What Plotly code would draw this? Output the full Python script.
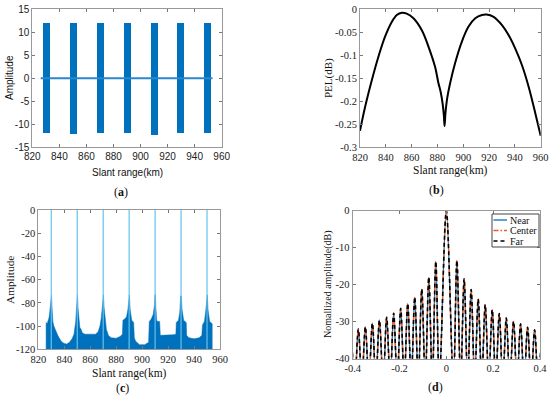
import plotly.graph_objects as go

W, H = 550, 397

# ---------------- data ----------------
# (a) transmitted pulse bursts
a_burst_start = [827.6, 847.5, 867.6, 887.5, 907.4, 927.0, 947.0]
a_burst_end = [833.0, 853.2, 873.2, 893.2, 912.6, 932.2, 952.0]
a_burst_high = [12.0, 12.0, 12.0, 12.0, 12.0, 12.0, 12.0]
a_burst_low = [-12.0, -12.2, -12.0, -12.0, -12.4, -12.0, -12.0]
a_zero_x = [826.2, 953.2]
a_zero_y = [0.0, 0.0]

# (b) PEL curve
b_x = [820, 823.9, 829.1, 834.2, 839.4, 844.6, 848.5, 852.4, 856.2, 861.4, 867.9, 873.1,
       878.2, 880.7, 882.5, 884.0, 885.0, 885.5, 886.2, 887.3, 889.9, 893.8, 899.0, 904.1,
       909.3, 914.5, 918.0, 923.5, 930.0, 935.2, 940.3, 945.5, 950.7, 955.9, 960]
b_y = [-0.264, -0.213, -0.155, -0.104, -0.060, -0.028, -0.013, -0.008, -0.010, -0.020,
       -0.046, -0.082, -0.126, -0.160, -0.180, -0.205, -0.232, -0.254, -0.226, -0.198,
       -0.160, -0.116, -0.070, -0.038, -0.020, -0.013, -0.012, -0.017, -0.035, -0.057,
       -0.086, -0.122, -0.169, -0.227, -0.275]

# (c) compressed echo: spike positions and floor envelope
c_spike_x = [830, 850, 870, 890, 910, 930, 950]
c_spike_top = [0, 0, 0, 0, 0, 0, 0]
c_env_x = [826.0, 826.8, 827.5, 828.2, 828.8, 829.4, 829.8, 830.2, 830.6, 831.2, 832, 833, 834,
           835, 836.5, 838, 840, 842, 844, 846, 847.5, 848.3, 848.8, 849.4, 849.8, 850.2,
           850.6, 851.2, 852, 853, 854, 856, 860, 864, 866, 867.5, 868.5, 869.3, 869.8,
           870.2, 870.7, 871.5, 872.5, 874, 876, 880, 883, 884.8, 885.2, 886.5, 888, 889,
           889.8, 890.2, 890.8, 892, 893.5, 894, 895, 898, 902, 905, 905.5, 907, 908.5,
           909.5, 909.9, 910.2, 910.6, 911.2, 912, 913.5, 914, 916, 920, 924, 926, 926.3,
           928, 929, 929.7, 930.2, 930.8, 932, 934, 934.3, 936, 940, 944, 946, 946.5, 948,
           949.2, 949.8, 950.2, 950.8, 952, 953, 954]
c_env_y = [-97, -98, -96, -93, -88, -82, -73, -73, -84, -96, -100, -103, -104.5,
           -108, -111, -113.5, -115, -115.5, -114, -111, -107, -100, -96, -85, -73, -73,
           -84, -95, -101, -103, -106, -107, -107, -107, -105, -100, -93, -84, -73,
           -73, -84, -96, -103, -108, -110, -110.5, -109, -107, -95, -94, -92, -86,
           -73, -73, -86, -95, -97, -110, -113, -116, -116, -114, -96, -94, -90,
           -82, -73, -73, -84, -95, -96, -96, -108, -108, -108, -107.5, -107, -97,
           -95, -88, -74, -74, -86, -95, -97, -108, -110, -111, -110, -108, -99, -96,
           -85, -73, -73, -86, -96, -97, -98]
c_floor = -120

# (d) impulse response: lobe peaks and nulls (dB)
d_x = [-0.406, -0.391, -0.376, -0.361, -0.346, -0.331, -0.316, -0.301, -0.286, -0.270,
       -0.255, -0.240, -0.225, -0.210, -0.195, -0.180, -0.165, -0.150, -0.135, -0.120,
       -0.105, -0.090, -0.075, -0.060, -0.045, -0.030, 0.0, 0.030, 0.045, 0.061, 0.076,
       0.091, 0.106, 0.121, 0.136, 0.151, 0.166, 0.181, 0.196, 0.211, 0.226, 0.241,
       0.256, 0.271, 0.287, 0.302, 0.317, 0.332, 0.347, 0.362, 0.377, 0.392, 0.407]
d_y = [-32.6, -46, -32.0, -46, -31.4, -46, -30.4, -46, -29.6, -46,
       -28.8, -46, -27.7, -46, -26.4, -46, -25.1, -46, -23.4, -46,
       -21.2, -46, -18.0, -46, -13.7, -46, 0.0, -46, -13.5, -46, -18.4,
       -46, -21.3, -46, -23.9, -46, -25.4, -46, -26.8, -46, -27.8, -46,
       -29.0, -46, -29.9, -46, -30.6, -46, -31.5, -46, -32.2, -46, -32.8]
d_names = ["Near", "Center", "Far"]

# tick labels
range_ticks = [820, 840, 860, 880, 900, 920, 940, 960]
range_ticktext = ["820", "840", "860", "880", "900", "920", "940", "960"]
a_yticks = [-15, -10, -5, 0, 5, 10, 15]
a_yticktext = ["-15", "-10", "-5", "0", "5", "10", "15"]
b_yticks = [-0.3, -0.25, -0.2, -0.15, -0.1, -0.05, 0]
b_yticktext = ["-0.3", "-0.25", "-0.2", "-0.15", "-0.1", "-0.05", "0"]
c_yticks = [-120, -100, -80, -60, -40, -20, 0]
c_yticktext = ["-120", "-100", "-80", "-60", "-40", "-20", "0"]
d_xticks = [-0.4, -0.2, 0, 0.2, 0.4]
d_xticktext = ["-0.4", "-0.2", "0", "0.2", "0.4"]
d_yticks = [-40, -30, -20, -10, 0]
d_yticktext = ["-40", "-30", "-20", "-10", "0"]

# ---------------- styling ----------------
BLUE = "#0072BD"
LIGHTBLUE = "#62C3EE"
ORANGE = "#F45A1C"
SANS = "Liberation Sans, Arial, sans-serif"
SERIF = "Liberation Serif, Times New Roman, serif"


def px(x):
    return x / W


def py(y):
    return 1 - y / H


fig = go.Figure()

# (a)
fig.add_trace(go.Bar(
    x=[(s + e) / 2 for s, e in zip(a_burst_start, a_burst_end)],
    y=[h - l for h, l in zip(a_burst_high, a_burst_low)],
    base=a_burst_low,
    width=[e - s for s, e in zip(a_burst_start, a_burst_end)],
    marker=dict(color=BLUE, line=dict(width=0)),
    xaxis="x", yaxis="y", showlegend=False, hoverinfo="skip"))
fig.add_trace(go.Scatter(x=a_zero_x, y=a_zero_y, mode="lines",
                         line=dict(color="#2a86cf", width=2),
                         xaxis="x", yaxis="y", showlegend=False))

# (b)
fig.add_trace(go.Scatter(x=b_x, y=b_y, mode="lines", line=dict(color="black", width=2),
                         line_shape="spline", xaxis="x2", yaxis="y2", showlegend=False))

# (c)
poly_x = [c_env_x[0]] + c_env_x + [c_env_x[-1]]
poly_y = [c_floor] + c_env_y + [c_floor]
fig.add_trace(go.Scatter(x=poly_x, y=poly_y, mode="lines", fill="toself",
                         fillcolor=BLUE, line=dict(color=BLUE, width=0.5),
                         xaxis="x3", yaxis="y3", showlegend=False))
sx, sy = [], []
for xv, top in zip(c_spike_x, c_spike_top):
    sx += [xv, xv, None]
    sy += [c_floor, top, None]
fig.add_trace(go.Scatter(x=sx, y=sy, mode="lines", line=dict(color=LIGHTBLUE, width=1.2),
                         xaxis="x3", yaxis="y3", showlegend=False))

# (d)
styles = [dict(color=BLUE, width=1.3, dash="solid"),
          dict(color=ORANGE, width=1.3, dash="5px,2px,1.5px,2px"),
          dict(color="black", width=1.6, dash="4px,3px")]
for name, st in zip(d_names, styles):
    fig.add_trace(go.Scatter(x=d_x, y=d_y, mode="lines", name=name, line=st,
                             line_shape="spline", xaxis="x4", yaxis="y4", showlegend=False))


def axis(domain, rng, tickvals, ticktext, font, anchor, size=10.5):
    return dict(domain=domain, range=rng, tickmode="array", tickvals=tickvals,
                ticktext=ticktext, ticks="inside", ticklen=3, tickcolor="#777",
                showline=True, mirror="ticks", linecolor="#999", linewidth=1,
                showgrid=False, zeroline=False, automargin=False,
                ticklabeloverflow="allow",
                tickfont=dict(family=font, size=size, color="#222"),
                anchor=anchor, fixedrange=True)


fig.update_layout(
    width=W, height=H, margin=dict(l=0, r=0, t=0, b=0, autoexpand=False),
    paper_bgcolor="white", plot_bgcolor="white", bargap=0, showlegend=False,
    xaxis=axis([px(32.3), px(221.7)], [820, 960], range_ticks, range_ticktext, SANS, "y", 10),
    yaxis=axis([py(147.3), py(9)], [-15, 15], a_yticks, a_yticktext, SANS, "x", 10),
    xaxis2=axis([px(360), px(540.7)], [820, 960], range_ticks, range_ticktext, SERIF, "y2"),
    yaxis2=axis([py(147.3), py(9)], [-0.3, 0], b_yticks, b_yticktext, SERIF, "x2"),
    xaxis3=axis([px(38.3), px(220)], [820, 960], range_ticks, range_ticktext, SERIF, "y3"),
    yaxis3=axis([py(349.3), py(210)], [-120, 0], c_yticks, c_yticktext, SERIF, "x3"),
    xaxis4=axis([px(352.7), px(540)], [-0.4, 0.4], d_xticks, d_xticktext, SERIF, "y4"),
    yaxis4=axis([py(358.7), py(210.7)], [-40, 0], d_yticks, d_yticktext, SERIF, "x4"),
)

ann = []
shapes = []


def label(text, x, y, font, size, angle=0, xanchor="center"):
    ann.append(dict(text=text, x=px(x), y=py(y), xref="paper", yref="paper",
                    showarrow=False, textangle=angle, xanchor=xanchor, yanchor="middle",
                    font=dict(family=font, size=size, color="#111")))


label("Slant range(km)", 127, 172, SANS, 10)
label("Amplitude", 10, 78, SANS, 10, -90)
label("Slant range(km)", 450, 170, SERIF, 11.5)
label("PEL(dB)", 329, 78, SERIF, 11, -90)
label("Slant range(km)", 129, 373, SERIF, 11.5)
label("Amplitude", 10, 280, SERIF, 11.3, -90)
label("Nomallized amplitude(dB)", 328, 285, SERIF, 10, -90)
label("(<b>a</b>)", 121, 192, SERIF, 12)
label("(<b>b</b>)", 436, 190, SERIF, 12)
label("(<b>c</b>)", 122, 388, SERIF, 12)
label("(<b>d</b>)", 435, 387, SERIF, 12)

# legend for (d)
shapes.append(dict(type="rect", xref="paper", yref="paper", x0=px(492), x1=px(539),
                   y0=py(247), y1=py(214), line=dict(color="#444", width=1),
                   fillcolor="white", layer="above"))
leg_rows = [220, 230.5, 241]
for name, st, yy in zip(d_names, styles, leg_rows):
    shapes.append(dict(type="line", xref="paper", yref="paper", x0=px(493.5), x1=px(507),
                       y0=py(yy), y1=py(yy), layer="above",
                       line=dict(color=st["color"], width=1.3, dash=st["dash"])))
    label(name, 508, yy, SERIF, 10, xanchor="left")

fig.update_layout(annotations=ann, shapes=shapes)

fig.write_html("out.html", config={"displayModeBar": False, "staticPlot": True},
               post_script="document.body.style.margin='0px';")
